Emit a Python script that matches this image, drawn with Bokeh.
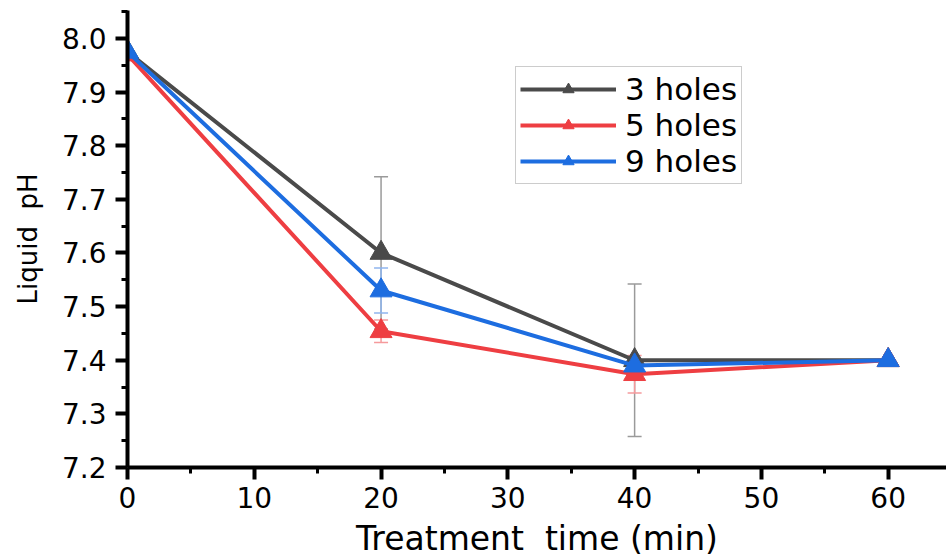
from bokeh.plotting import figure
from bokeh.models import (ColumnDataSource, Whisker, TeeHead, Range1d, Legend, LegendItem,
                          FixedTicker, PrintfTickFormatter, LinearAxis)
from bokeh.embed import file_html
from bokeh.resources import INLINE

time = [0, 20, 40, 60]
ph_3 = [7.975, 7.600, 7.400, 7.400]
err_3 = [0.0, 0.142, 0.142, 0.0]
ph_5 = [7.970, 7.454, 7.374, 7.400]
err_5 = [0.0, 0.021, 0.035, 0.0]
ph_9 = [7.975, 7.530, 7.390, 7.400]
err_9 = [0.0, 0.042, 0.010, 0.0]
labels = ["3 holes", "5 holes", "9 holes"]
colors = ["#4a4a4a", "#ee3e42", "#1d6de0"]
err_colors = ["#9a9a9a", "#f59a9c", "#8fb5ee"]
x_ticks = [0, 10, 20, 30, 40, 50, 60]
x_minor = [5, 15, 25, 35, 45, 55]
y_ticks = [7.2, 7.3, 7.4, 7.5, 7.6, 7.7, 7.8, 7.9, 8.0]
y_minor = [7.25, 7.35, 7.45, 7.55, 7.65, 7.75, 7.85, 7.95, 8.05]

FONT = "DejaVu Sans"

p = figure(width=946, height=560, output_backend="svg", toolbar_location=None,
           x_range=Range1d(0, 64.6), y_range=Range1d(7.2, 8.052),
           x_axis_type=None, y_axis_type=None,
           min_border_left=127, min_border_bottom=88, min_border_top=10, min_border_right=0)
p.outline_line_color = None
p.xgrid.visible = False
p.ygrid.visible = False


def style(ax, label_size, title_size):
    ax.axis_line_width = 4
    ax.axis_line_color = "black"
    ax.major_tick_line_width = 4
    ax.minor_tick_line_width = 3
    ax.major_tick_out = 12
    ax.major_tick_in = 0
    ax.minor_tick_out = 6
    ax.minor_tick_in = 0
    ax.major_label_text_font = FONT
    ax.major_label_text_font_size = label_size
    ax.major_label_text_color = "black"
    ax.axis_label_text_font = FONT
    ax.axis_label_text_font_size = title_size
    ax.axis_label_text_font_style = "normal"
    ax.axis_label_text_color = "black"


xaxis = LinearAxis(ticker=FixedTicker(ticks=x_ticks, minor_ticks=x_minor),
                   axis_label="Treatment\u00a0 time (min)")
style(xaxis, "28px", "33px")
xaxis.major_label_standoff = 7
xaxis.axis_label_standoff = 8
p.add_layout(xaxis, "below")

yaxis = LinearAxis(ticker=FixedTicker(ticks=y_ticks, minor_ticks=y_minor),
                   formatter=PrintfTickFormatter(format="%.1f"),
                   axis_label="Liquid\u00a0 pH")
style(yaxis, "28px", "26px")
yaxis.major_label_standoff = 9
yaxis.axis_label_standoff = 16
p.add_layout(yaxis, "left")

series = [(ph_3, err_3), (ph_5, err_5), (ph_9, err_9)]
for (vals, errs), ec in zip(series, err_colors):
    src = ColumnDataSource(dict(x=time,
                                up=[v + e for v, e in zip(vals, errs)],
                                lo=[v - e for v, e in zip(vals, errs)]))
    w = Whisker(source=src, base="x", upper="up", lower="lo", line_color=ec, line_width=1.5,
                upper_head=TeeHead(size=14, line_color=ec, line_width=1.5),
                lower_head=TeeHead(size=14, line_color=ec, line_width=1.5))
    p.add_layout(w)

items = []
for (vals, errs), lab, c in zip(series, labels, colors):
    src = ColumnDataSource(dict(x=time, y=vals))
    r1 = p.line("x", "y", source=src, line_color=c, line_width=4)
    r2 = p.scatter("x", "y", source=src, marker="triangle", size=22, fill_color=c, line_color=c)
    items.append(LegendItem(label=lab, renderers=[r1, r2]))

legend = Legend(items=items, location=(388, 283))
legend.label_text_font = FONT
legend.label_text_font_size = "31px"
legend.label_text_color = "black"
legend.glyph_width = 96
legend.glyph_height = 28
legend.label_height = 28
legend.spacing = -10
legend.padding = 4
legend.margin = 0
legend.label_standoff = 9
legend.border_line_color = "#999999"
legend.border_line_width = 1.5
p.add_layout(legend)

open("out.html", "w").write(file_html(p, INLINE))
